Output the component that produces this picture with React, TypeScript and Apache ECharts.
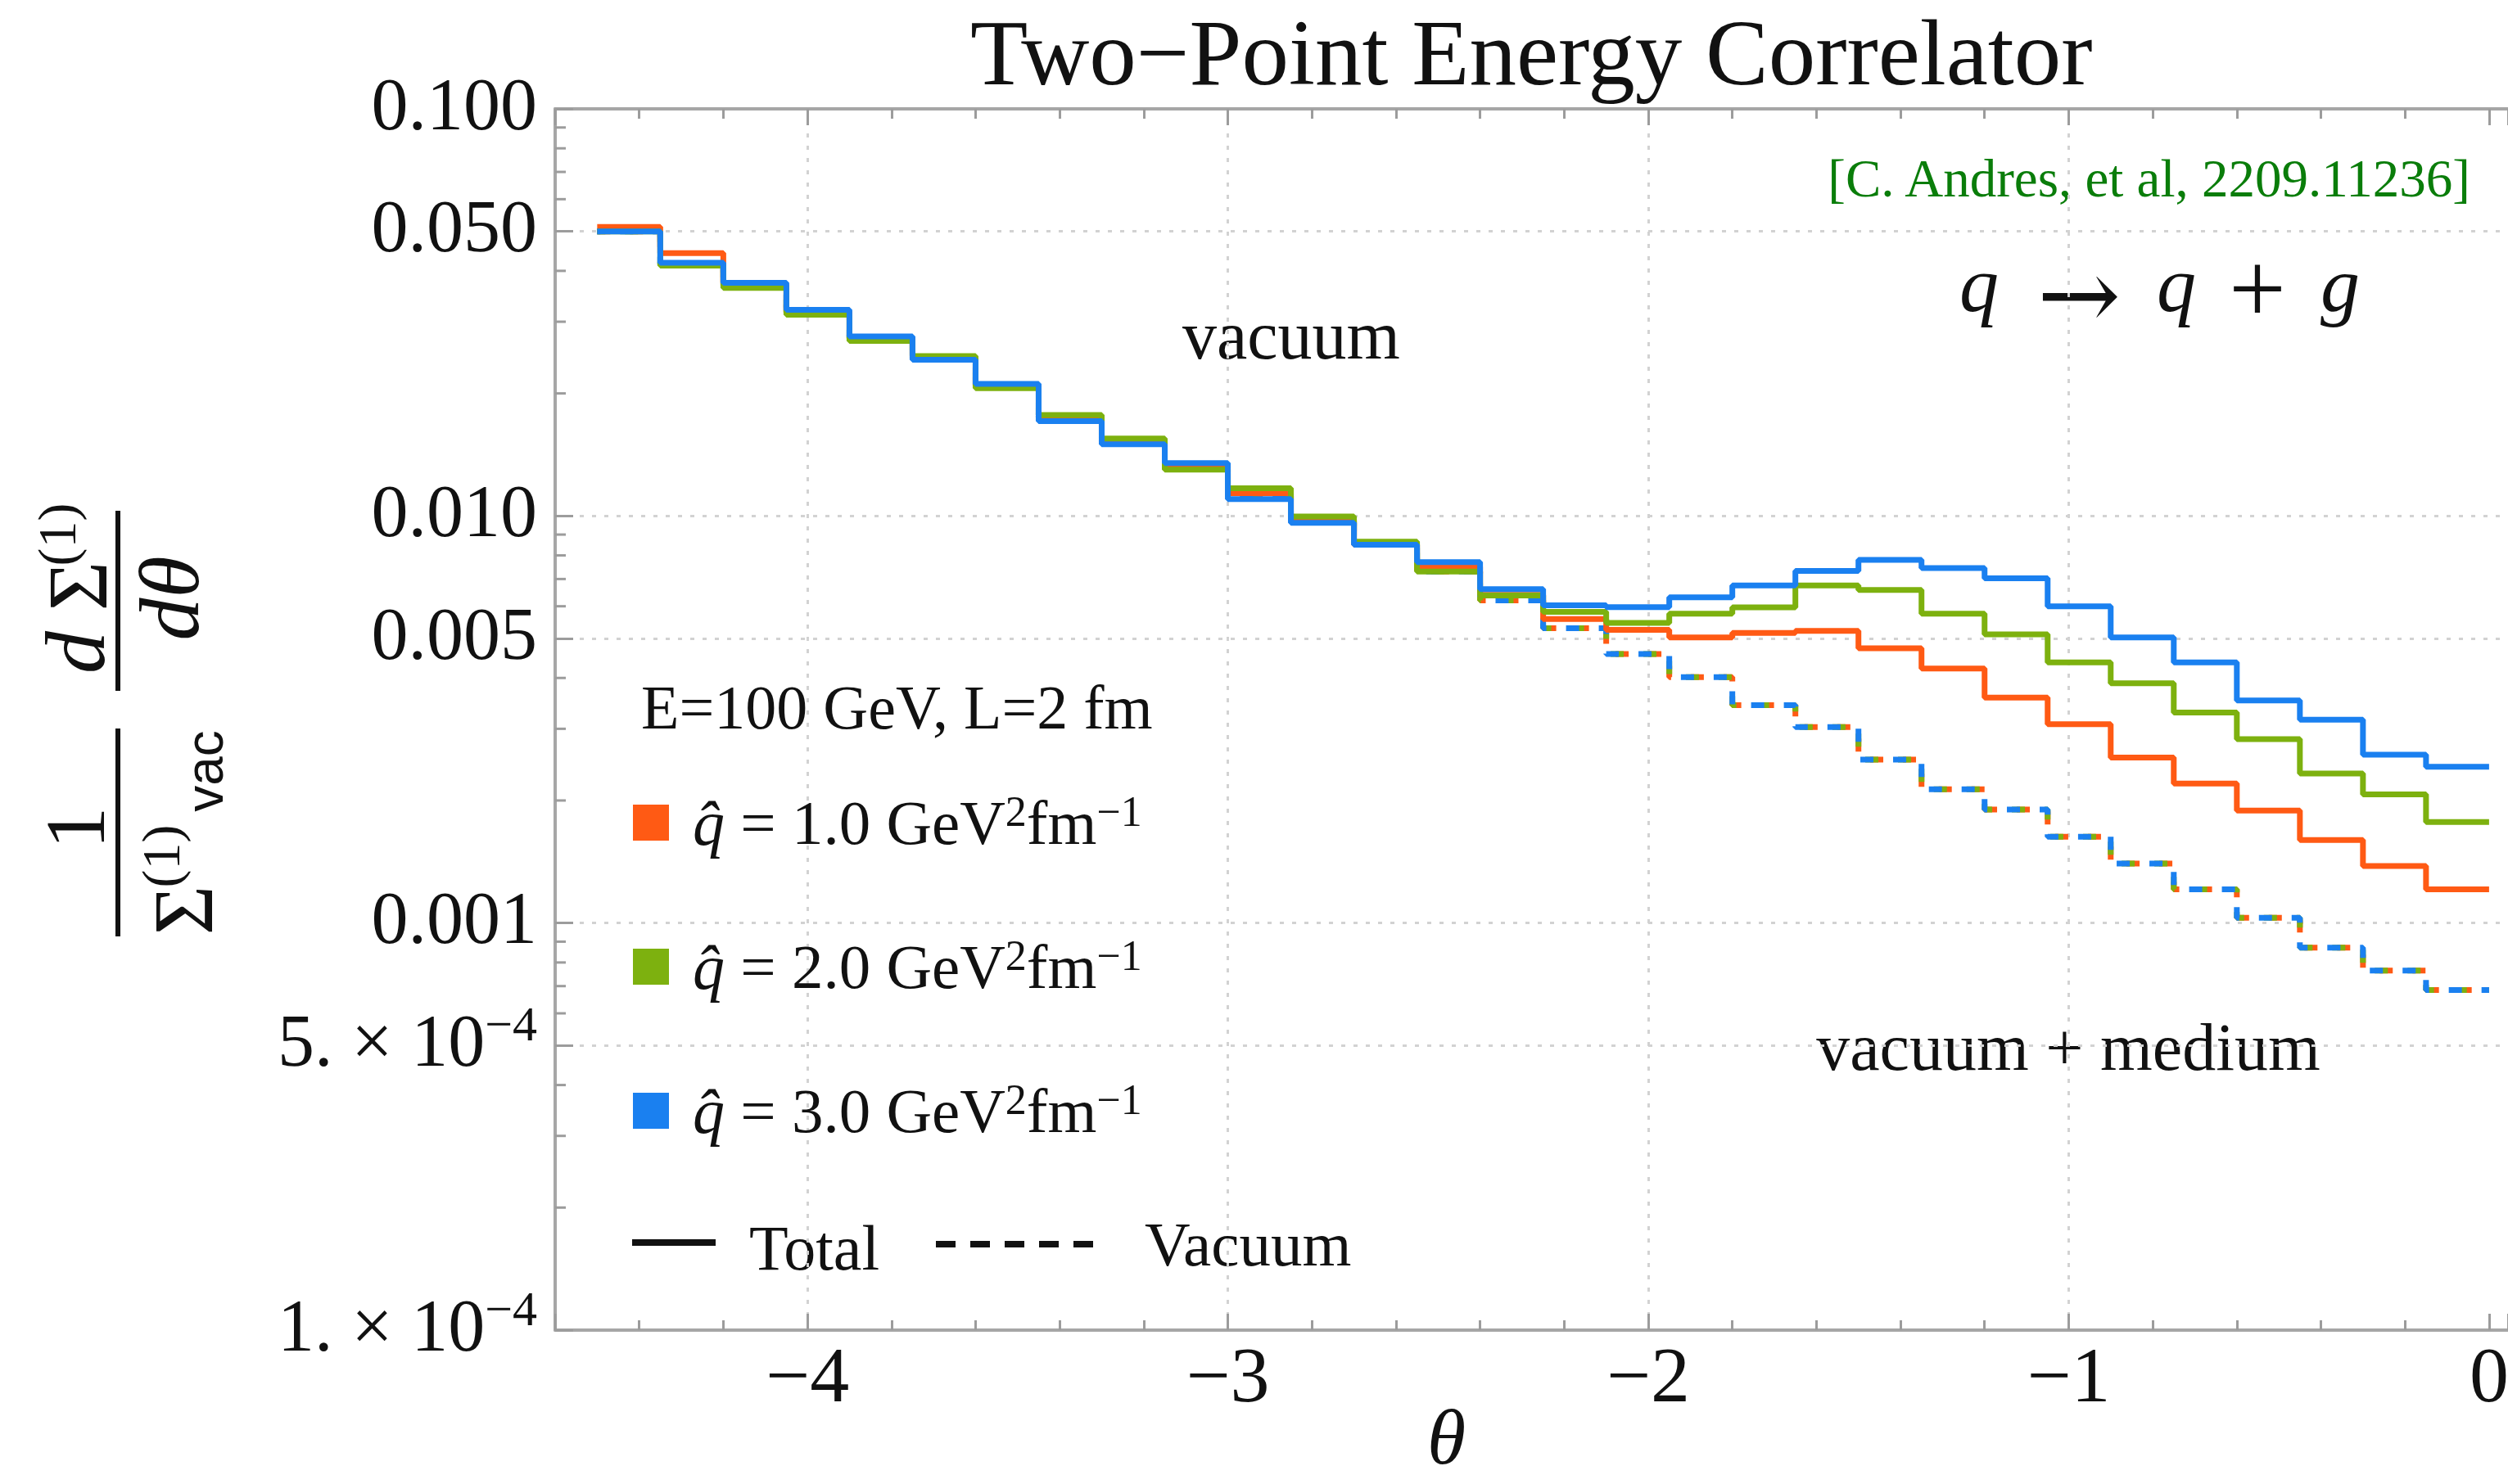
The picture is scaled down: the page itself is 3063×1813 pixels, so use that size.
import React, { useEffect, useRef } from 'react';
import * as echarts from 'echarts';

const W = 3063;
const H = 1813;
const SERIF = '"Liberation Serif", "DejaVu Serif", serif';
const SANS = '"Liberation Sans", "DejaVu Sans", sans-serif';
const INK = '#111111';
const FRAME = '#a6a6a6';
const TICK = '#9c9c9c';
const GREEN_TXT = '#0a7d0a';

// ---------------- data ----------------
const binEdges = [
  -4.5, -4.35, -4.2, -4.05, -3.9, -3.75, -3.6, -3.45, -3.3, -3.15,
  -3.0, -2.85, -2.7, -2.55, -2.4, -2.25, -2.1, -1.95, -1.8, -1.65,
  -1.5, -1.35, -1.2, -1.05, -0.9, -0.75, -0.6, -0.45, -0.3, -0.15, 0,
];
const qhatValues = ['1.0', '2.0', '3.0'];
const seriesColors = ['#ff5a14', '#7db10f', '#1a80f0'];

const totalQ1 = [
  0.0513, 0.0442, 0.037, 0.0318, 0.0274, 0.0244, 0.0209, 0.0174, 0.0152, 0.0133,
  0.01138, 0.0098, 0.0085, 0.0075, 0.0064, 0.00558, 0.00525, 0.00503, 0.00516, 0.00522,
  0.00473, 0.00422, 0.00358, 0.00308, 0.00255, 0.0022, 0.00189, 0.0016, 0.00138, 0.00121,
];
const totalQ2 = [
  0.05, 0.0412, 0.0363, 0.0312, 0.0269, 0.0247, 0.0206, 0.0177, 0.0155, 0.013,
  0.0117, 0.00997, 0.00865, 0.0073, 0.00638, 0.00581, 0.00546, 0.00575, 0.00596, 0.00675,
  0.00658, 0.00575, 0.00512, 0.00437, 0.00388, 0.00329, 0.00283, 0.00233, 0.00207, 0.00177,
];
const totalQ3 = [
  0.05, 0.0419, 0.0374, 0.0321, 0.0276, 0.0242, 0.0211, 0.0171, 0.015, 0.01348,
  0.011, 0.00962, 0.0085, 0.0077, 0.00661, 0.00603, 0.00597, 0.00631, 0.00675, 0.00733,
  0.0078, 0.00745, 0.00703, 0.006, 0.00503, 0.00437, 0.00352, 0.00316, 0.00259, 0.00242,
];
const vacuumVals = [
  0.05, 0.0415, 0.0368, 0.0316, 0.0273, 0.0244, 0.0209, 0.0174, 0.0152, 0.0132,
  0.0112, 0.0097, 0.0085, 0.0073, 0.0062, 0.0053, 0.00458, 0.00402, 0.00343, 0.00303,
  0.00252, 0.00213, 0.0019, 0.00163, 0.0014, 0.00121, 0.00103, 0.00087, 0.000764, 0.000685,
];

const yMinorTicks = [
  0.0002, 0.0003, 0.0004, 0.0006, 0.0007, 0.0008, 0.0009,
  0.002, 0.003, 0.004, 0.006, 0.007, 0.008, 0.009,
  0.02, 0.03, 0.04, 0.06, 0.07, 0.08, 0.09,
];

// ---------------- layout ----------------
const X_MIN = -4.6;
const X_MAX = 0.045;
const X_GRIDLINE_MAX = -1;
const Y_MIN = 1e-4;
const Y_MAX = 0.1;
const HALF_TOP = 0.05;
const HALF_BOTTOM = 5e-4;
const GRID_LEFT = 678;
const GRID_TOP = 133;
const GRID_BOTTOM = 188;
const plotH = H - GRID_TOP - GRID_BOTTOM;
const decadePx = plotH / Math.log10(Y_MAX / Y_MIN);
const pxPerX = (W - GRID_LEFT) / (X_MAX - X_MIN);

const fmtY = (v: number) => {
  if (v >= 0.00095) return v.toFixed(3);
  const e = Math.floor(Math.log10(v) + 1e-9);
  const m = Math.round(v / Math.pow(10, e));
  return `{a|${m}. × 10}{s|−${-e}}`;
};
const fmtX = (v: number) => (v < 0 ? '−' + String(Math.abs(v)) : String(v));

const stepPoints = (vals: number[]) =>
  binEdges.map((x, i) => [x, vals[Math.min(i, vals.length - 1)]]);

const legendNames = qhatValues.map((v) => `q̂ = ${v} GeV²fm⁻¹`);

const yRich = {
  a: { fontSize: 90, fontFamily: SERIF, color: INK, lineHeight: 100 },
  s: { fontSize: 60, fontFamily: SERIF, color: INK, lineHeight: 52, verticalAlign: 'top' },
};
const gridLineStyle = { color: '#d2d2d2', width: 3, type: [5, 10] };
const tickStyle = { color: TICK, width: 3 };
const LINE_W = 7;

function txt(x: number, y: number, text: string, extra: any = {}, rotation = 0) {
  return {
    type: 'text',
    x,
    y,
    rotation,
    silent: true,
    style: {
      text,
      fontFamily: SERIF,
      fontSize: 80,
      fill: INK,
      align: 'center',
      verticalAlign: 'middle',
      textAlign: 'center',
      textVerticalAlign: 'middle',
      ...extra,
    },
  };
}

function buildOption(): any {
  const totals = [totalQ1, totalQ2, totalQ3];
  const series: any[] = [];
  totals.forEach((_, k) => {
    series.push({
      type: 'line',
      name: `Vacuum q̂ = ${qhatValues[k]}`,
      xAxisIndex: 0,
      yAxisIndex: 0,
      data: stepPoints(vacuumVals),
      step: 'end',
      symbol: 'none',
      showSymbol: false,
      silent: true,
      z: 2,
      lineStyle: { color: seriesColors[k], width: LINE_W, type: [16, 24], dashOffset: k * 6 },
      itemStyle: { color: seriesColors[k] },
      emphasis: { disabled: true },
    });
  });
  totals.forEach((vals, k) => {
    series.push({
      type: 'line',
      name: legendNames[k],
      xAxisIndex: 0,
      yAxisIndex: 0,
      data: stepPoints(vals),
      step: 'end',
      symbol: 'none',
      showSymbol: false,
      silent: true,
      z: 3,
      lineStyle: { color: seriesColors[k], width: LINE_W },
      itemStyle: { color: seriesColors[k] },
      emphasis: { disabled: true },
    });
  });
  series.push({
    type: 'custom',
    name: 'minor ticks',
    xAxisIndex: 0,
    yAxisIndex: 0,
    silent: true,
    clip: false,
    z: 5,
    data: yMinorTicks.map((v) => [X_MIN, v]),
    renderItem: (params: any, api: any) => {
      const p = api.coord([api.value(0), api.value(1)]);
      return {
        type: 'line',
        shape: { x1: p[0], y1: p[1], x2: p[0] + 13, y2: p[1] },
        style: { stroke: TICK, lineWidth: 3 },
      };
    },
  });

  const grid1Top = GRID_TOP + Math.log10(Y_MAX / HALF_TOP) * decadePx;
  const grid1Bottom = H - (GRID_TOP + Math.log10(Y_MAX / HALF_BOTTOM) * decadePx);
  const grid2Right = W - (GRID_LEFT + (X_GRIDLINE_MAX - X_MIN) * pxPerX);

  const xFrame = {
    type: 'value',
    gridIndex: 0,
    min: X_MIN,
    max: X_MAX,
    axisLine: { show: true, onZero: false, lineStyle: { color: FRAME, width: 4 } },
    axisTick: { show: true, inside: true, length: 20, lineStyle: tickStyle },
    minorTick: { show: true, splitNumber: 5, length: 12, lineStyle: tickStyle },
    splitLine: { show: false },
    minorSplitLine: { show: false },
  };

  const graphicEls: any[] = [
    // annotations
    txt(3017, 218, '[C. Andres, et al, 2209.11236]', { fontSize: 65, fill: GREEN_TXT, align: 'right', textAlign: 'right' }),
    txt(2417, 347, 'q', { fontSize: 96, fontStyle: 'italic' }),
    txt(2539, 360, '→', { fontSize: 122, fontFamily: '"DejaVu Serif", serif' }),
    txt(2658, 347, 'q', { fontSize: 96, fontStyle: 'italic' }),
    txt(2757, 352, '+', { fontSize: 124 }),
    txt(2858, 347, 'g', { fontSize: 96, fontStyle: 'italic' }),
    txt(1577, 409, 'vacuum', { fontSize: 84 }),
    txt(2526, 1279, 'vacuum + medium', { fontSize: 82, backgroundColor: '#ffffff', lineHeight: 56 }),
    // legend extras
    txt(783, 864, 'E=100 GeV, L=2 fm', { fontSize: 76, align: 'left', textAlign: 'left' }),
    { type: 'line', silent: true, shape: { x1: 772, y1: 1518, x2: 874, y2: 1518 }, style: { stroke: INK, lineWidth: 8 } },
    txt(915, 1524, 'Total', { fontSize: 78, align: 'left', textAlign: 'left' }),
    { type: 'line', silent: true, shape: { x1: 1143, y1: 1520, x2: 1338, y2: 1520 }, style: { stroke: INK, lineWidth: 8, lineDash: [24, 18] } },
    txt(1398, 1520, 'Vacuum', { fontSize: 77, align: 'left', textAlign: 'left' }),
    // y-axis title (rotated fraction)
    txt(91.5, 1011.5, '1', { fontSize: 104 }, Math.PI / 2),
    { type: 'line', silent: true, shape: { x1: 144, y1: 890, x2: 144, y2: 1144 }, style: { stroke: INK, lineWidth: 6 } },
    txt(223, 1112, 'Σ', { fontSize: 104 }, Math.PI / 2),
    txt(196, 1046, '(1)', { fontSize: 66 }, Math.PI / 2),
    txt(250, 942, 'vac', { fontSize: 64, fontFamily: SANS }, Math.PI / 2),
    txt(91.5, 797, 'd', { fontSize: 104, fontStyle: 'italic' }, Math.PI / 2),
    txt(94, 716, 'Σ', { fontSize: 104 }, Math.PI / 2),
    txt(69, 653, '(1)', { fontSize: 66 }, Math.PI / 2),
    { type: 'line', silent: true, shape: { x1: 144, y1: 624, x2: 144, y2: 844 }, style: { stroke: INK, lineWidth: 6 } },
    txt(206, 731, 'dθ', { fontSize: 104, fontStyle: 'italic' }, Math.PI / 2),
  ];

  return {
    animation: false,
    backgroundColor: '#ffffff',
    textStyle: { fontFamily: SERIF },
    title: {
      text: 'Two−Point Energy Correlator',
      left: 1185,
      top: 7,
      padding: 0,
      textStyle: { fontFamily: SERIF, fontSize: 115, fontWeight: 'normal', color: INK },
    },
    legend: {
      data: legendNames,
      orient: 'vertical',
      left: 773,
      top: 965,
      padding: 0,
      itemGap: 97,
      itemWidth: 44,
      itemHeight: 44,
      icon: 'rect',
      selectedMode: false,
      formatter: (name: string) => {
        const i = legendNames.indexOf(name);
        return `{q|q̂}{t| = ${qhatValues[i]} GeV}{s|2}{t|fm}{s|−1}`;
      },
      textStyle: {
        color: INK,
        fontFamily: SERIF,
        fontSize: 76,
        rich: {
          q: { fontFamily: SERIF, fontStyle: 'italic', fontSize: 78, color: INK, lineHeight: 80, padding: [0, 0, 0, 24] },
          t: { fontFamily: SERIF, fontSize: 77, color: INK, lineHeight: 80 },
          s: { fontFamily: SERIF, fontSize: 52, color: INK, lineHeight: 44, verticalAlign: 'top' },
        },
      },
    },
    grid: [
      { left: GRID_LEFT, right: 0, top: GRID_TOP, bottom: GRID_BOTTOM, containLabel: false, outerBoundsMode: 'none' },
      { left: GRID_LEFT, right: 0, top: grid1Top, bottom: grid1Bottom, containLabel: false, outerBoundsMode: 'none' },
      { left: GRID_LEFT, right: grid2Right, top: GRID_TOP, bottom: GRID_BOTTOM, containLabel: false, outerBoundsMode: 'none' },
    ],
    xAxis: [
      {
        ...xFrame,
        position: 'bottom',
        axisLabel: {
          show: true,
          margin: 6,
          fontSize: 96,
          fontFamily: SERIF,
          color: INK,
          showMinLabel: false,
          showMaxLabel: false,
          formatter: fmtX,
        },
        name: 'θ',
        nameLocation: 'middle',
        nameGap: 86,
        nameMoveOverlap: false,
        nameTextStyle: {
          fontFamily: SERIF,
          fontStyle: 'italic',
          fontSize: 96,
          lineHeight: 88,
          color: INK,
          padding: [0, 208, 0, 0],
        },
      },
      { ...xFrame, position: 'top', axisLabel: { show: false } },
      { type: 'value', gridIndex: 1, min: X_MIN, max: X_MAX, show: false },
      {
        type: 'value',
        gridIndex: 2,
        min: X_MIN,
        max: X_GRIDLINE_MAX,
        axisLine: { show: false, onZero: false },
        axisTick: { show: false },
        axisLabel: { show: false },
        splitLine: { show: true, showMinLine: false, lineStyle: gridLineStyle },
      },
    ],
    yAxis: [
      {
        type: 'log',
        logBase: 10,
        gridIndex: 0,
        min: Y_MIN,
        max: Y_MAX,
        position: 'left',
        axisLine: { show: true, onZero: false, lineStyle: { color: FRAME, width: 4 } },
        axisTick: { show: true, inside: true, length: 22, lineStyle: tickStyle },
        axisLabel: {
          show: true,
          margin: 22,
          fontSize: 90,
          fontFamily: SERIF,
          color: INK,
          padding: [0, 0, 12, 0],
          formatter: fmtY,
          rich: yRich,
        },
        splitLine: { show: true, showMinLine: false, showMaxLine: false, lineStyle: gridLineStyle },
      },
      {
        type: 'log',
        logBase: 10,
        gridIndex: 1,
        min: 0.01,
        max: 1,
        position: 'left',
        axisLine: { show: false, onZero: false },
        axisTick: { show: true, inside: true, length: 22, lineStyle: tickStyle },
        axisLabel: {
          show: true,
          margin: 22,
          fontSize: 90,
          fontFamily: SERIF,
          color: INK,
          padding: [0, 0, 12, 0],
          formatter: (v: number) => fmtY(v * HALF_TOP),
          rich: yRich,
        },
        splitLine: { show: true, lineStyle: gridLineStyle },
      },
      { type: 'value', gridIndex: 2, min: 0, max: 1, show: false },
    ],
    graphic: { elements: graphicEls },
    series,
  };
}

export default function App() {
  const ref = useRef<HTMLDivElement>(null);
  useEffect(() => {
    if (!ref.current) return;
    const chart = echarts.init(ref.current, undefined, { renderer: 'svg' });
    chart.setOption(buildOption());
    return () => {
      chart.dispose();
    };
  }, []);
  return (
    <div
      ref={ref}
      style={{ position: 'absolute', left: 0, top: 0, width: W, height: H, background: '#ffffff' }}
    />
  );
}
